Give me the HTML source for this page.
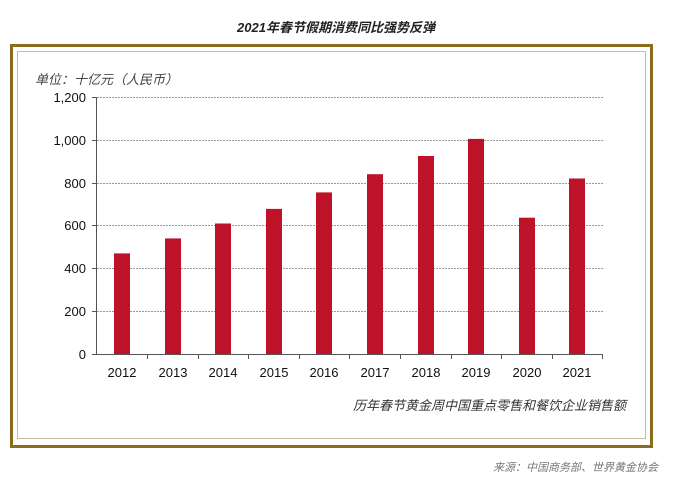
<!DOCTYPE html>
<html><head><meta charset="utf-8"><style>
body{margin:0;background:#fff;width:673px;height:490px;overflow:hidden}
</style></head><body>
<svg width="673" height="490" xmlns="http://www.w3.org/2000/svg" font-family="Liberation Sans, Noto Sans CJK SC, sans-serif">
<text x="336" y="32" text-anchor="middle" font-size="13" font-weight="bold" font-style="italic" fill="#222">2021年春节假期消费同比强势反弹</text>
<rect x="11.5" y="45.5" width="640" height="401" fill="none" stroke="#8a6d1f" stroke-width="3"/>
<rect x="17.5" y="51.5" width="628" height="387" fill="none" stroke="#c8bba0" stroke-width="1"/>
<text x="35" y="84" font-size="13" font-style="italic" fill="#444">单位：十亿元（人民币）</text>
<g stroke="#999" stroke-dasharray="2,1" stroke-width="1">
<line x1="97" x2="603" y1="97.5" y2="97.5"/>
<line x1="97" x2="603" y1="140.5" y2="140.5"/>
<line x1="97" x2="603" y1="183.5" y2="183.5"/>
<line x1="97" x2="603" y1="225.5" y2="225.5"/>
<line x1="97" x2="603" y1="268.5" y2="268.5"/>
<line x1="97" x2="603" y1="311.5" y2="311.5"/>
</g>
<g fill="#be1229">
<rect x="114" y="253.4" width="16" height="100.6"/>
<rect x="165" y="238.4" width="16" height="115.6"/>
<rect x="215" y="223.5" width="16" height="130.5"/>
<rect x="266" y="208.9" width="16" height="145.1"/>
<rect x="316" y="192.4" width="16" height="161.6"/>
<rect x="367" y="174.2" width="16" height="179.8"/>
<rect x="418" y="156" width="16" height="198"/>
<rect x="468" y="138.9" width="16" height="215.1"/>
<rect x="519" y="217.7" width="16" height="136.3"/>
<rect x="569" y="178.5" width="16" height="175.5"/>
</g>
<g stroke="#555" stroke-width="1">
<line x1="96.5" x2="96.5" y1="97" y2="354"/>
<line x1="96" x2="603" y1="354.5" y2="354.5"/>
<line x1="92" x2="97" y1="97.5" y2="97.5"/><line x1="92" x2="97" y1="140.5" y2="140.5"/><line x1="92" x2="97" y1="183.5" y2="183.5"/><line x1="92" x2="97" y1="225.5" y2="225.5"/><line x1="92" x2="97" y1="268.5" y2="268.5"/><line x1="92" x2="97" y1="311.5" y2="311.5"/><line x1="92" x2="97" y1="354.5" y2="354.5"/>
<line x1="147.5" x2="147.5" y1="354" y2="359"/><line x1="198.5" x2="198.5" y1="354" y2="359"/><line x1="248.5" x2="248.5" y1="354" y2="359"/><line x1="299.5" x2="299.5" y1="354" y2="359"/><line x1="349.5" x2="349.5" y1="354" y2="359"/><line x1="400.5" x2="400.5" y1="354" y2="359"/><line x1="451.5" x2="451.5" y1="354" y2="359"/><line x1="501.5" x2="501.5" y1="354" y2="359"/><line x1="552.5" x2="552.5" y1="354" y2="359"/><line x1="602.5" x2="602.5" y1="354" y2="359"/>
</g>
<g font-size="13" fill="#111" text-anchor="end">
<text x="86" y="102">1,200</text><text x="86" y="145">1,000</text><text x="86" y="188">800</text><text x="86" y="230">600</text><text x="86" y="273">400</text><text x="86" y="316">200</text><text x="86" y="359">0</text>
</g>
<g font-size="13" fill="#111" text-anchor="middle">
<text x="122" y="377">2012</text><text x="173" y="377">2013</text><text x="223" y="377">2014</text><text x="274" y="377">2015</text><text x="324" y="377">2016</text><text x="375" y="377">2017</text><text x="426" y="377">2018</text><text x="476" y="377">2019</text><text x="527" y="377">2020</text><text x="577" y="377">2021</text>
</g>
<text x="626" y="410" text-anchor="end" font-size="13" font-style="italic" fill="#333">历年春节黄金周中国重点零售和餐饮企业销售额</text>
<text x="658" y="471" text-anchor="end" font-size="11" font-style="italic" fill="#777">来源：中国商务部、世界黄金协会</text>
</svg>
</body></html>
